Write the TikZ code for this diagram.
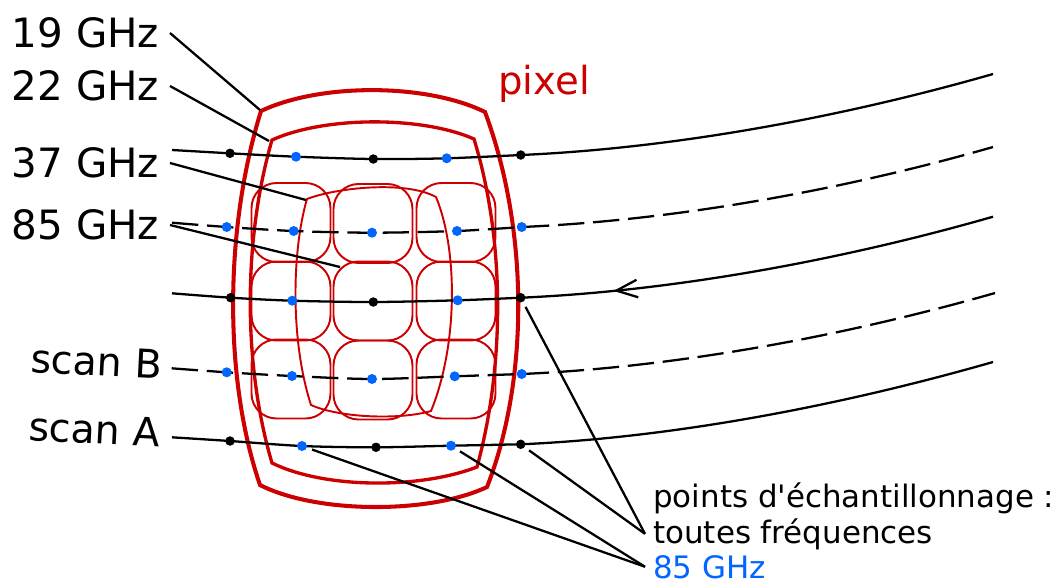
\documentclass[tikz,border=0pt]{standalone}
\usepackage{fontspec}
\setmainfont{DejaVu Sans}[Ligatures=TeXOff]
\usepackage{xcolor}
\usepackage{tikz}
\usetikzlibrary{arrows.meta,decorations.markings,backgrounds}

\definecolor{pixred}{RGB}{204,0,0}
\definecolor{ptblue}{RGB}{0,102,255}

\begin{document}
\begin{tikzpicture}[
    x=0.02cm, y=-0.02cm,
    ghz/.style={font=\fontsize{23}{27}\selectfont, inner xsep=6pt, inner ysep=0pt, anchor=east},
    scanlbl/.style={font=\fontsize{22.5}{27}\selectfont, inner sep=0pt, anchor=base west, rotate=-3},
    note/.style={font=\fontsize{17.6}{21}\selectfont, inner xsep=4.5pt, inner ysep=0pt, anchor=base west},
    bdot/.style={circle, fill=black, inner sep=0pt, minimum size=0.19cm},
    bldot/.style={circle, fill=ptblue, inner sep=0pt, minimum size=0.2cm},
    cell/.style={rectangle, draw=pixred, line width=1.1pt, minimum width=1.58cm, minimum height=1.58cm, rounded corners=0.5cm},
    scanline/.style={line width=1.3pt},
    dashline/.style={line width=1.3pt, dash pattern=on 15pt off 5pt},
    leader/.style={line width=1.3pt},
    backarrow/.style={postaction={decorate}, decoration={markings, mark=at position 0.533 with {\arrowreversed{Straight Barb[length=12pt, width=10pt]}}}}
]
\useasboundingbox (0,0) rectangle (1063,586);

% Frequency labels
\node[ghz] (l19) at (170,33) {19 GHz};
\node[ghz] (l22) at (170,86) {22 GHz};
\node[ghz] (l37) at (170,163) {37 GHz};
\node[ghz] (l85) at (170,225) {85 GHz};
\node[font=\fontsize{22}{26}\selectfont, text=pixred, inner sep=0pt, anchor=base west] (pix) at (498,94) {pixel};

% Scan labels
\node[scanlbl] (scanB) at (30,372) {scan B};
\node[scanlbl] (scanA) at (28,440) {scan A};

% Sampling points legend
\node[note] (samp) at (645,507) {points d'échantillonnage :};
\node[note] (tf) at (645,543) {toutes fréquences};
\node[note, text=ptblue] (f85) at (645,578) {85 GHz};

% Leader line ends on the footprints
\coordinate (c19) at (260,110);
\coordinate (c22) at (269,141);
\coordinate (c37) at (306,200);
\coordinate (c85) at (340,267);

% Scan line ends
\coordinate (b1) at (172,150);
\coordinate (e1) at (993,74);
\coordinate (b2) at (172,222.7);
\coordinate (e2) at (993,147);
\coordinate (b3) at (172,293.3);
\coordinate (e3) at (993,216.7);
\coordinate (b4) at (171.7,368.3);
\coordinate (e4) at (995,293);
\coordinate (b5) at (172,437.3);
\coordinate (e5) at (993,362);

% Sampling points - scan 1
\node[bdot] (d11) at (230,153.3) {};
\node[bldot] (d12) at (296,156.7) {};
\node[bdot] (d13) at (373.3,159) {};
\node[bldot] (d14) at (446.7,158.3) {};
\node[bdot] (d15) at (520.7,155) {};

% Sampling points - scan 2
\node[bldot] (d21) at (226.7,227) {};
\node[bldot] (d22) at (293.7,231) {};
\node[bldot] (d23) at (372,232.7) {};
\node[bldot] (d24) at (457,231) {};
\node[bldot] (d25) at (521.7,227) {};

% Sampling points - scan 3
\node[bdot] (d31) at (230.7,297.7) {};
\node[bldot] (d32) at (292.3,300.7) {};
\node[bdot] (d33) at (373.3,302) {};
\node[bldot] (d34) at (457.7,300.3) {};
\node[bdot] (d35) at (520.7,297.7) {};

% Sampling points - scan B
\node[bldot] (d41) at (226.7,372.3) {};
\node[bldot] (d42) at (292,376) {};
\node[bldot] (d43) at (372,379) {};
\node[bldot] (d44) at (454.7,376.3) {};
\node[bldot] (d45) at (521.7,374) {};

% Sampling points - scan A
\node[bdot] (d51) at (230,441) {};
\node[bldot] (d52) at (302,446) {};
\node[bdot] (d53) at (376,447.3) {};
\node[bldot] (d54) at (451,445.7) {};
\node[bdot] (d55) at (520.7,444.3) {};

\begin{scope}[on background layer]
% 19 GHz pixel
\draw[pixred, line width=2.3pt] (261,111) .. controls (320,83) and (426,83) .. (485,112)
    .. controls (529,230) and (529,380) .. (487,487)
    .. controls (430,514) and (317,514) .. (260,485)
    .. controls (224,380) and (224,230) .. cycle;
% 22 GHz
\draw[pixred, line width=1.9pt] (272,140) .. controls (325,116) and (422,116) .. (474,139)
    .. controls (505,240) and (505,365) .. (477,467)
    .. controls (420,489) and (325,489) .. (272,463)
    .. controls (243,365) and (243,240) .. cycle;
% 37 GHz
\draw[pixred, line width=1.1pt] (307,199) .. controls (335,188) and (405,180) .. (436,197)
    .. controls (458,250) and (458,345) .. (431,411)
    .. controls (400,420) and (340,418) .. (311,405)
    .. controls (290,340) and (292,250) .. cycle;

% 85 GHz footprints
\node[cell] (f11) at (291,222.5) {};
\node[cell] (f12) at (373,223.5) {};
\node[cell] (f13) at (456,222.5) {};
\node[cell] (f21) at (291,301) {};
\node[cell] (f22) at (373,301) {};
\node[cell] (f23) at (456,301) {};
\node[cell] (f31) at (291,379) {};
\node[cell] (f32) at (373,380) {};
\node[cell] (f33) at (456,379) {};

% Scan lines
\draw[scanline] plot[smooth] coordinates {(b1) (d11.center) (d12.center) (d13.center) (d14.center) (d15.center)}
    .. controls ([xshift=3.2cm,yshift=0.14cm]d15.center) and ([xshift=-2.86cm,yshift=-0.82cm]e1) .. (e1);
\draw[dashline] plot[smooth] coordinates {(b2) (d21.center) (d22.center) (d23.center) (d24.center) (d25.center)}
    .. controls ([xshift=3.2cm,yshift=0.14cm]d25.center) and ([xshift=-2.86cm,yshift=-0.82cm]e2) .. (e2);
\draw[scanline, backarrow] plot[smooth] coordinates {(b3) (d31.center) (d32.center) (d33.center) (d34.center) (d35.center)}
    .. controls ([xshift=3.2cm,yshift=0.14cm]d35.center) and ([xshift=-2.86cm,yshift=-0.82cm]e3) .. (e3);
\draw[dashline] plot[smooth] coordinates {(b4) (d41.center) (d42.center) (d43.center) (d44.center) (d45.center)}
    .. controls ([xshift=3.2cm,yshift=0.14cm]d45.center) and ([xshift=-2.86cm,yshift=-0.82cm]e4) .. (e4);
\draw[scanline] plot[smooth] coordinates {(b5) (d51.center) (d52.center) (d53.center) (d54.center) (d55.center)}
    .. controls ([xshift=3.2cm,yshift=0.14cm]d55.center) and ([xshift=-2.86cm,yshift=-0.82cm]e5) .. (e5);
\end{scope}

% Leader lines
\draw[leader] (l19.east) -- (c19);
\draw[leader] (l22.east) -- (c22);
\draw[leader] (l37.east) -- (c37);
\draw[leader] (l85.east) -- (c85);
\draw[leader, shorten <=3pt] (d35) -- (tf.west);
\draw[leader, shorten <=3pt] (d55) -- (tf.west);
\draw[leader, shorten <=3pt] (d52) -- (f85.west);
\draw[leader, shorten <=3pt] (d54) -- (f85.west);

\end{tikzpicture}
\end{document}
